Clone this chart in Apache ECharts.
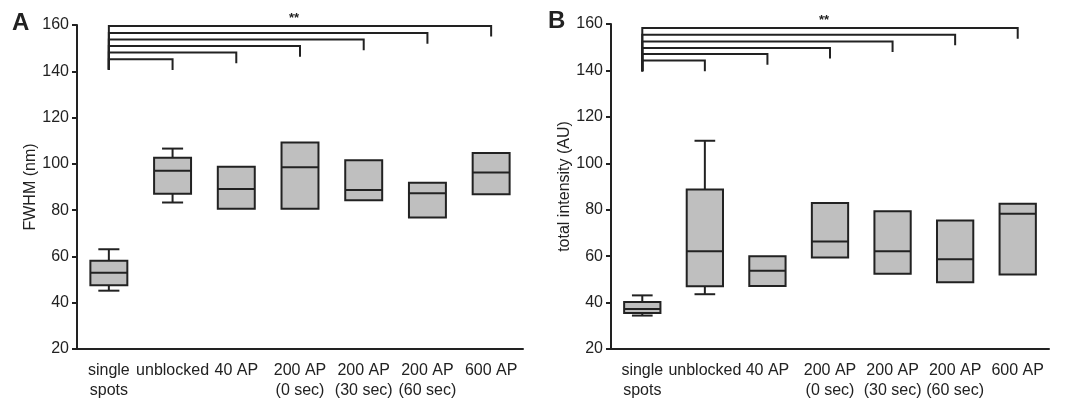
<!DOCTYPE html>
<html>
<head>
<meta charset="utf-8">
<script src="https://cdn.jsdelivr.net/npm/echarts@6/dist/echarts.min.js"></script>
<style>
html,body{margin:0;padding:0;background:#fff;}
#chart{width:1068px;height:401px;}
</style>
</head>
<body>
<div id="chart"></div>
<script>
const categories = ['single\nspots', 'unblocked', '40 AP', '200 AP\n(0 sec)', '200 AP\n(30 sec)', '200 AP\n(60 sec)', '600 AP'];
const yTicks = [20, 40, 60, 80, 100, 120, 140, 160];
// each box: [min, q1, median, q3, max]
const fwhmBoxes = [
  [45.2, 47.6, 52.9, 58.1, 63.1],
  [83.3, 87.1, 97.0, 102.6, 106.6],
  [80.6, 80.6, 89.1, 98.7, 98.7],
  [80.6, 80.6, 98.5, 109.2, 109.2],
  [84.3, 84.3, 88.7, 101.6, 101.6],
  [76.8, 76.8, 87.3, 91.8, 91.8],
  [86.9, 86.9, 96.3, 104.7, 104.7]
];
const intensityBoxes = [
  [34.4, 35.5, 37.2, 40.2, 43.1],
  [43.6, 47.0, 62.1, 88.7, 109.7],
  [47.1, 47.1, 53.7, 60.0, 60.0],
  [59.4, 59.4, 66.3, 82.9, 82.9],
  [52.4, 52.4, 62.1, 79.3, 79.3],
  [48.8, 48.8, 58.7, 75.4, 75.4],
  [52.1, 52.1, 78.3, 82.6, 82.6]
];
// significance brackets: single spots vs category k (k = 1..6), bracket heights
const fwhmBracketTops = [145.2, 148.1, 150.9, 153.7, 156.5, 159.6];
const fwhmBracketBase = 140.7;
const intensityBracketTops = [144.3, 147.1, 149.7, 152.5, 155.4, 158.3];
const intensityBracketBase = 139.7;
const bracketDrop = 4.6;
const sigLabel = '**';
const yNames = ['FWHM (nm)', 'total intensity (AU)'];
const panelLetters = ['A', 'B'];

const INK = '#222';
const FONT = 'Liberation Sans, Arial, sans-serif';

function boxRender(params, api) {
  const x = api.value(0);
  const mn = api.value(1), q1 = api.value(2), md = api.value(3), q3 = api.value(4), mx = api.value(5);
  const band = api.size([1, 0])[0];
  const bw = band * 0.58;
  const cw = bw * 0.57;
  const cx = api.coord([x, md])[0];
  const Y = v => api.coord([x, v])[1];
  const st = { stroke: INK, lineWidth: 2, fill: null };
  const ch = [];
  if (mx > q3) {
    ch.push({ type: 'line', shape: { x1: cx, y1: Y(q3), x2: cx, y2: Y(mx) }, style: st });
    ch.push({ type: 'line', shape: { x1: cx - cw / 2, y1: Y(mx), x2: cx + cw / 2, y2: Y(mx) }, style: st });
  }
  if (mn < q1) {
    ch.push({ type: 'line', shape: { x1: cx, y1: Y(q1), x2: cx, y2: Y(mn) }, style: st });
    ch.push({ type: 'line', shape: { x1: cx - cw / 2, y1: Y(mn), x2: cx + cw / 2, y2: Y(mn) }, style: st });
  }
  ch.push({ type: 'rect', shape: { x: cx - bw / 2, y: Y(q3), width: bw, height: Y(q1) - Y(q3) },
    style: { fill: '#bfbfbf', stroke: INK, lineWidth: 2 } });
  ch.push({ type: 'line', shape: { x1: cx - bw / 2, y1: Y(md), x2: cx + bw / 2, y2: Y(md) }, style: st });
  return { type: 'group', children: ch };
}

function bracketRenderFactory(base) {
  return function (params, api) {
    const k = api.value(0);
    const t = api.value(1);
    const p0 = api.coord([0, base]);
    const p1 = api.coord([0, t]);
    const p2 = api.coord([k, t]);
    const p3 = api.coord([k, t - bracketDrop]);
    const ch = [{ type: 'polyline', shape: { points: [p0, p1, p2, p3] },
      style: { stroke: INK, lineWidth: 2, fill: null } }];
    if (k === categories.length - 1) {
      const mid = api.coord([3, t]);
      ch.push({ type: 'text', x: mid[0] - 6, y: mid[1] - 8,
        style: { text: sigLabel, fill: INK, font: 'bold 13px ' + FONT, align: 'center', verticalAlign: 'middle' } });
    }
    return { type: 'group', children: ch };
  };
}

function xAxisCfg(gi) {
  return {
    type: 'category', gridIndex: gi, data: categories, boundaryGap: true,
    axisLine: { lineStyle: { color: INK, width: 2 } },
    axisTick: { alignWithLabel: true, length: 5, lineStyle: { color: INK, width: 2 } },
    axisLabel: { interval: 0, fontSize: 16, lineHeight: 20, color: INK, fontFamily: FONT, margin: 12 }
  };
}
function yAxisCfg(gi, name, gap) {
  return {
    type: 'value', gridIndex: gi, min: yTicks[0], max: yTicks[yTicks.length - 1], interval: 20,
    name: name, nameLocation: 'middle', nameGap: gap,
    nameTextStyle: { fontSize: 16, color: INK, fontFamily: FONT },
    splitLine: { show: false },
    axisLine: { show: true, lineStyle: { color: INK, width: 2 } },
    axisTick: { show: true, length: 5, lineStyle: { color: INK, width: 2 } },
    axisLabel: { fontSize: 16, color: INK, fontFamily: FONT, margin: 8 }
  };
}

const chart = echarts.init(document.getElementById('chart'), null, { renderer: 'canvas' });
chart.setOption({
  backgroundColor: '#fff',
  animation: false,
  grid: [
    { left: 77, top: 25, width: 446, height: 326 },
    { left: 611, top: 24, width: 438, height: 327 }
  ],
  xAxis: [xAxisCfg(0), xAxisCfg(1)],
  yAxis: [yAxisCfg(0, yNames[0], 38), yAxisCfg(1, yNames[1], 34)],
  graphic: [
    { type: 'text', left: 12, top: 11, style: { text: panelLetters[0], font: 'bold 24px ' + FONT, fill: INK } },
    { type: 'text', left: 548, top: 9, style: { text: panelLetters[1], font: 'bold 24px ' + FONT, fill: INK } }
  ],
  series: [
    { type: 'custom', xAxisIndex: 0, yAxisIndex: 0, renderItem: boxRender,
      encode: { x: 0, y: [1, 2, 3, 4, 5] }, data: fwhmBoxes.map((b, i) => [i].concat(b)) },
    { type: 'custom', xAxisIndex: 1, yAxisIndex: 1, renderItem: boxRender,
      encode: { x: 0, y: [1, 2, 3, 4, 5] }, data: intensityBoxes.map((b, i) => [i].concat(b)) },
    { type: 'custom', xAxisIndex: 0, yAxisIndex: 0, renderItem: bracketRenderFactory(fwhmBracketBase),
      encode: { x: 0, y: 1 }, data: fwhmBracketTops.map((t, i) => [i + 1, t]) },
    { type: 'custom', xAxisIndex: 1, yAxisIndex: 1, renderItem: bracketRenderFactory(intensityBracketBase),
      encode: { x: 0, y: 1 }, data: intensityBracketTops.map((t, i) => [i + 1, t]) }
  ]
});
</script>
</body>
</html>
